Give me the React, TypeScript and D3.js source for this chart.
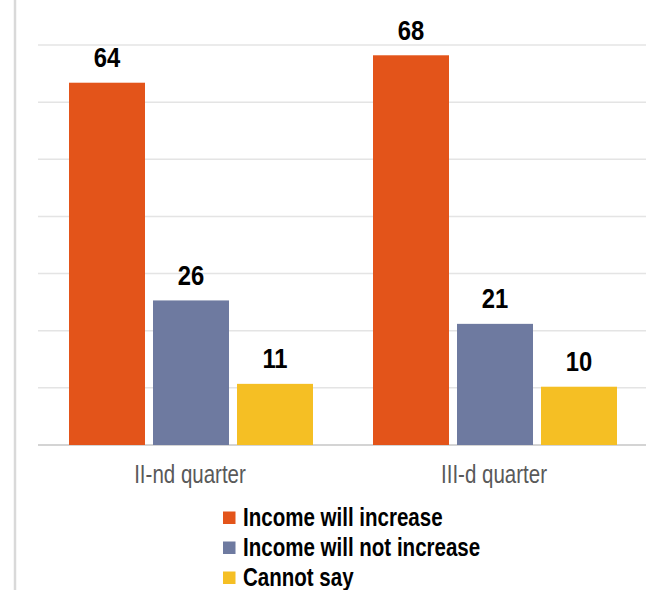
import React from "react";
import * as d3 from "d3";

const categories = ["II-nd quarter", "III-d quarter"];
const seriesNames = ["Income will increase", "Income will not increase", "Cannot say"];
const seriesColors = ["#E3541A", "#6E7AA0", "#F5BF24"];
// bar heights
const increaseValues = [63.4, 68.2];
const notIncreaseValues = [25.3, 21.2];
const cannotSayValues = [10.7, 10.2];
// printed data labels
const increaseLabels = ["64", "68"];
const notIncreaseLabels = ["26", "21"];
const cannotSayLabels = ["11", "10"];
const gridTicks = [0, 10, 20, 30, 40, 50, 60, 70];

const W = 650;
const H = 590;
const font = "'Liberation Sans', Arial, sans-serif";

export default function App() {
  const y = d3.scaleLinear().domain([0, 70]).range([445, 45]);
  const x0 = d3.scaleBand().domain(categories).range([38, 646]).padding(0);
  const x1 = d3.scaleBand().domain(seriesNames).range([31, 275]).paddingInner(8 / 84).paddingOuter(0);

  const values = [increaseValues, notIncreaseValues, cannotSayValues];
  const labels = [increaseLabels, notIncreaseLabels, cannotSayLabels];

  return (
    <svg width={W} height={H} style={{ position: "absolute", left: 0, top: 0, display: "block", background: "#fff" }}>
      <line x1={15} x2={15} y1={0} y2={H} stroke="#d9d9d9" strokeWidth={2.5} />
      {gridTicks.map((t) => (
        <line key={t} x1={38} x2={646} y1={y(t)} y2={y(t)} stroke={t === 0 ? "#d4d4d4" : "#e4e4e4"} strokeWidth={t === 0 ? 2 : 1.5} />
      ))}
      {categories.map((c, ci) => (
        <g key={c} transform={`translate(${x0(c)},0)`}>
          {seriesNames.map((s, si) => {
            const v = values[si][ci];
            const bx = x1(s)!;
            return (
              <g key={s}>
                <rect x={bx} y={y(v)} width={x1.bandwidth()} height={y(0) - y(v)} fill={seriesColors[si]} />
                <text
                  transform={`translate(${bx + x1.bandwidth() / 2},${y(v) - 15.5}) scale(0.85,1)`}
                  textAnchor="middle"
                  fontFamily={font}
                  fontWeight="bold"
                  fontSize={28}
                  fill="#000"
                >
                  {labels[si][ci]}
                </text>
              </g>
            );
          })}
          <text
            transform={`translate(${x0.bandwidth() / 2},483) scale(0.82,1)`}
            textAnchor="middle"
            fontFamily={font}
            fontSize={25}
            fill="#595959"
          >
            {c}
          </text>
        </g>
      ))}
      {seriesNames.map((s, si) => (
        <g key={s} transform={`translate(223,${525.5 + si * 30})`}>
          <rect x={0} y={-14} width={12.5} height={12.5} fill={seriesColors[si]} />
          <text transform="translate(20,0) scale(0.79,1)" fontFamily={font} fontWeight="bold" fontSize={26} fill="#000">
            {s}
          </text>
        </g>
      ))}
    </svg>
  );
}
